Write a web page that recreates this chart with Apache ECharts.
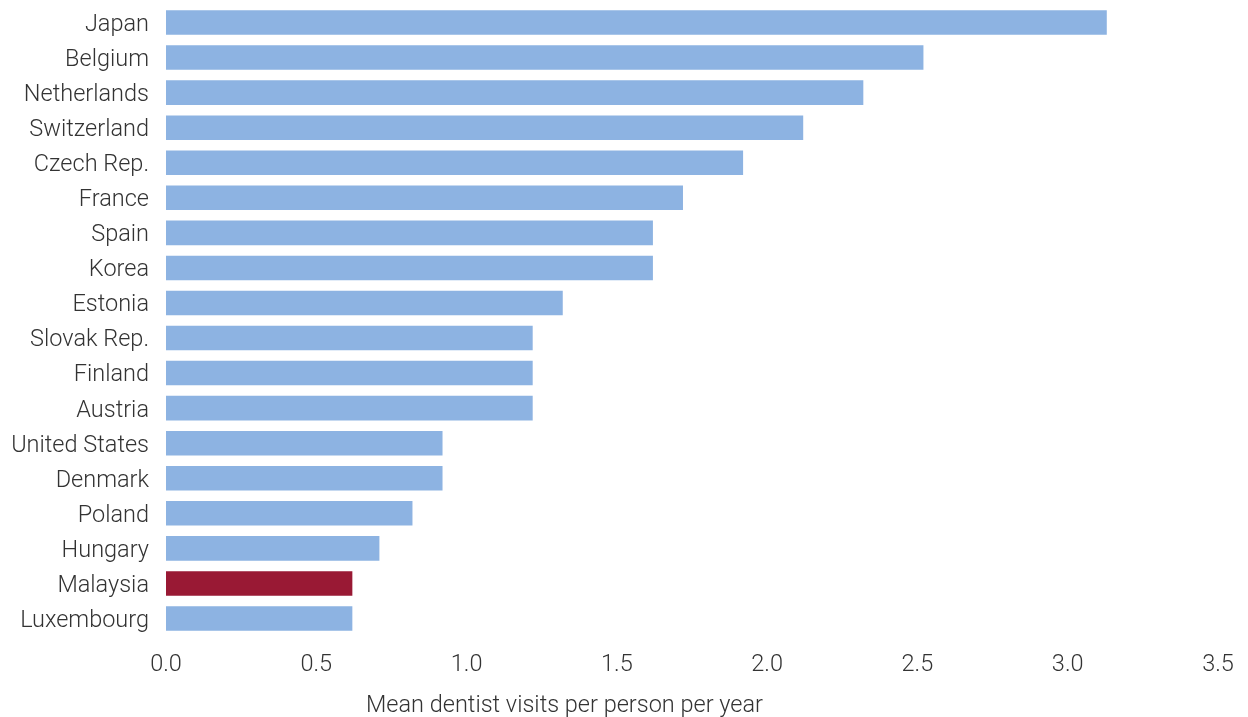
<!DOCTYPE html>
<html>
<head>
<meta charset="utf-8">
<script src="https://cdn.jsdelivr.net/npm/echarts@6/dist/echarts.min.js"></script>
<style>html,body{margin:0;padding:0;background:#fff;}#c{width:1248px;height:717px;}</style>
</head>
<body>
<div id="c"></div>
<script>
const countries = ["Japan","Belgium","Netherlands","Switzerland","Czech Rep.","France","Spain","Korea","Estonia","Slovak Rep.","Finland","Austria","United States","Denmark","Poland","Hungary","Malaysia","Luxembourg"];
const visits = [3.13,2.52,2.32,2.12,1.92,1.72,1.62,1.62,1.32,1.22,1.22,1.22,0.92,0.92,0.82,0.71,0.62,0.62];
const highlighted = ["Malaysia"];
const xTicks = [0,0.5,1,1.5,2,2.5,3,3.5];

const FONT = "Roboto";
const chart = echarts.init(document.getElementById('c'));
chart.setOption({
  animation: false,
  grid: {left: 166, right: 30, top: 5, bottom: 81, containLabel: false, outerBoundsMode: 'none'},
  xAxis: {
    type: 'value', min: xTicks[0], max: xTicks[xTicks.length-1], interval: 0.5,
    axisLine: {show: false}, axisTick: {show: false}, splitLine: {show: false},
    axisLabel: {formatter: v => v.toFixed(1), fontFamily: FONT, fontWeight: 300, fontSize: 23.5, color: '#333', margin: 17},
    name: 'Mean dentist visits per person per year',
    nameLocation: 'middle', nameGap: 58,
    nameTextStyle: {fontFamily: FONT, fontWeight: 300, fontSize: 23.5, color: '#333', padding: [0, 255, 0, 0]}
  },
  yAxis: {
    type: 'category', data: countries, inverse: true,
    axisLine: {show: false}, axisTick: {show: false}, splitLine: {show: false},
    axisLabel: {
      fontFamily: FONT, fontWeight: 300, fontSize: 23.5, color: '#333', margin: 17,
      formatter: v => '{t|' + v + '}',
      rich: {t: {fontFamily: FONT, fontWeight: 300, fontSize: 23.5, color: '#333', padding: [5, 0, 0, 0]}}
    }
  },
  series: [{
    type: 'bar', barWidth: '70%',
    data: countries.map((c, i) => ({value: visits[i], itemStyle: {color: highlighted.includes(c) ? '#991934' : '#8db3e2'}}))
  }]
});
</script>
</body>
</html>
